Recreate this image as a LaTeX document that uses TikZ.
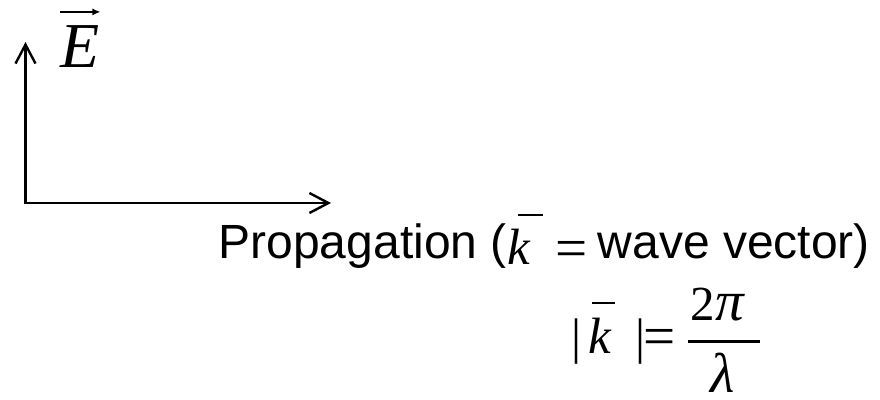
\documentclass[tikz,border=0pt]{standalone}
\usepackage{fontspec}
\setmainfont{Liberation Sans}
\newfontfamily\tnr{Liberation Serif}
\usetikzlibrary{arrows.meta}
\begin{document}
\begin{tikzpicture}[x=1pt,y=-1pt,
  txt/.style={inner sep=0pt, font=\fontsize{48}{48}\selectfont},
  mth/.style={inner sep=0pt, font=\tnr\fontsize{50}{50}\selectfont},
  eqs/.style={inner sep=0pt, font=\tnr\fontsize{57}{57}\selectfont},
  mit/.style={inner sep=0pt, font=\tnr\itshape\fontsize{51}{51}\selectfont},
  rulebar/.style={line width=2.4pt},
  axis/.style={line width=2.4pt, line join=miter,
    {Straight Barb[length=19pt,width=20pt,line width=2.4pt]}-{Straight Barb[length=19pt,width=20pt,line width=2.4pt]}}]
\useasboundingbox (0,0) rectangle (880,399);
% axes
\coordinate (O) at (25.5,203);
\coordinate (Ytop) at (25.5,42);
\coordinate (Xend) at (331,203);
\draw[axis] (Ytop) -- (O) -- (Xend);
% E vector label
\node[anchor=base west, inner sep=0pt, font=\tnr\itshape\fontsize{64}{64}\selectfont] (E) at (60,67) {E};
\draw[line width=2.4pt, -{Latex[length=8pt,width=7pt]}]
  ([xshift=0pt,yshift=13pt]E.north west) -- ([xshift=1pt,yshift=13pt]E.north east);
% line 1
\node[txt, anchor=base east] (prop) at (507,258) {Propagation (};
\node[mit, anchor=base west] (k1) at (507.5,264) {k};
\draw[rulebar] ([xshift=10pt,yshift=49pt]k1.base west) -- ([xshift=35pt,yshift=49pt]k1.base west);
\node[eqs, anchor=base] (eq1) at (572,267) {=};
\node[txt, anchor=base west] (wave) at (597.5,258) {wave vector)};
% line 2
\node[mth, anchor=base] (abs1) at (576,353) {|};
\node[mit, anchor=base west] (k2) at (588.5,353) {k};
\draw[rulebar] ([xshift=3.5pt,yshift=50pt]k2.base west) -- ([xshift=26.5pt,yshift=50pt]k2.base west);
\node[mth, anchor=base] (abs2) at (640,353) {|};
\node[eqs, anchor=base] (eq2) at (660,355) {=};
\node[anchor=base west, inner sep=0pt, font=\tnr\fontsize{49}{49}\selectfont] (num) at (690.5,320) {2{\itshape\fontsize{57}{57}\selectfont π}};
\node[anchor=base, inner sep=0pt, text depth=0pt, font=\tnr\itshape\fontsize{56}{56}\selectfont] (den) at (723,392) {λ};
\coordinate (fl) at (688,341.5);
\coordinate (fr) at (760,341.5);
\draw[rulebar] (fl) -- (fr);
\end{tikzpicture}
\end{document}
